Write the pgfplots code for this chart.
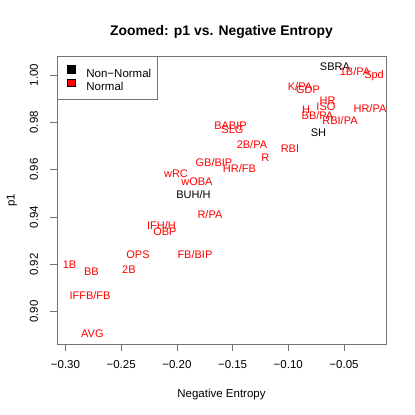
\documentclass[border=0pt]{standalone}
\usepackage{fontspec}
\setmainfont{Liberation Sans}
\usepackage{pgfplots}
\pgfplotsset{compat=1.18}
\definecolor{frame}{gray}{0.45}
\definecolor{rred}{RGB}{255,0,0}

\pgfplotstableread{
x y lab
-0.0581 1.0035 SBRA
-0.0729 0.9757 SH
-0.1851 0.9494 BUH/H
}\nonnormal

\pgfplotstableread{
x y lab
-0.0401 1.0014 1B/PA
-0.0230 1.0000 Spd
-0.0895 0.9951 K/PA
-0.0823 0.9937 GDP
-0.0648 0.9892 HR
-0.0662 0.9866 ISO
-0.0841 0.9852 H
-0.0267 0.9859 HR/PA
-0.0738 0.9828 BB/PA
-0.0536 0.9806 RBI/PA
-0.1519 0.9785 BABIP
-0.1501 0.9768 SLG
-0.1326 0.9708 2B/PA
-0.0985 0.9688 RBI
-0.1205 0.9649 R
-0.1667 0.9629 GB/BIP
-0.1438 0.9606 HR/FB
-0.2008 0.9582 wRC
-0.1820 0.9550 wOBA
-0.1703 0.9409 R/PA
-0.2138 0.9363 IFH/H
-0.2107 0.9339 OBP
-0.2349 0.9240 OPS
-0.1838 0.9240 FB/BIP
-0.2964 0.9200 1B
-0.2767 0.9170 BB
-0.2430 0.9180 2B
-0.2780 0.9068 IFFB/FB
-0.2758 0.8910 AVG
}\normal

\begin{document}
\begin{tikzpicture}
\useasboundingbox (-57pt,-71pt) rectangle (358pt,344pt);
\begin{axis}[
  at={(0pt,0pt)}, anchor=south west,
  scale only axis, width=329pt, height=288pt,
  xmin=-0.3076, xmax=-0.0123, ymin=0.8864, ymax=1.008,
  axis line style={draw=frame, line width=0.7pt},
  tick style={draw=frame, line width=0.7pt},
  tick align=outside, major tick length=7pt,
  xtick pos=bottom, ytick pos=left,
  xtick={-0.30,-0.25,-0.20,-0.15,-0.10,-0.05},
  xticklabels={−0.30,−0.25,−0.20,−0.15,−0.10,−0.05},
  ytick={0.90,0.92,0.94,0.96,0.98,1.00},
  yticklabels={0.90,0.92,0.94,0.96,0.98,1.00},
  ticklabel style={font=\fontsize{11.5}{13}\selectfont},
  xticklabel style={anchor=base},
  xticklabel shift=17pt,
  yticklabel style={rotate=90, anchor=base},
  yticklabel shift=12pt,
  title={Zoomed: p1 vs. Negative Entropy},
  title style={at={(axis description cs:0.5,1)}, anchor=base, yshift=14pt,
    font=\bfseries\fontsize{13.9}{16}\selectfont},
  xlabel={Negative Entropy},
  xlabel style={at={(axis description cs:0.5,0)}, anchor=base, yshift=-53pt,
    font=\fontsize{11.5}{13}\selectfont},
  ylabel={p1},
  ylabel style={at={(axis description cs:-0.129,0.5)}, anchor=base,
    font=\fontsize{11.5}{13}\selectfont},
  legend style={at={(0,1)}, anchor=north west, draw=frame, line width=0.7pt,
    fill=white, inner xsep=6pt, inner ysep=9pt, row sep=1pt,
    font=\fontsize{11.5}{13}\selectfont,
    nodes={inner sep=0pt, text height=8.4pt, text depth=0pt},
    /tikz/every odd column/.append style={column sep=11pt}},
  legend cell align=left,
]
\addplot[only marks, mark=none, nodes near coords, point meta=explicit symbolic,
  every node near coord/.append style={anchor=base, yshift=-3.9pt, inner sep=0pt,
    text=black, font=\fontsize{11}{13}\selectfont},
  legend image code/.code={\path (0pt,0pt); \draw[fill=black, draw=black, line width=0.4pt] (4pt,0.3pt) rectangle (11.5pt,7.8pt);}]
  table[x=x, y=y, meta=lab] {\nonnormal};
\addlegendentry{Non−Normal}
\addplot[only marks, mark=none, nodes near coords, point meta=explicit symbolic,
  every node near coord/.append style={anchor=base, yshift=-3.9pt, inner sep=0pt,
    text=rred, font=\fontsize{11}{13}\selectfont},
  legend image code/.code={\path (0pt,0pt); \draw[fill=rred, draw=black, line width=0.4pt] (4pt,0.3pt) rectangle (11.5pt,7.8pt);}]
  table[x=x, y=y, meta=lab] {\normal};
\addlegendentry{Normal}
\end{axis}
\end{tikzpicture}
\end{document}
